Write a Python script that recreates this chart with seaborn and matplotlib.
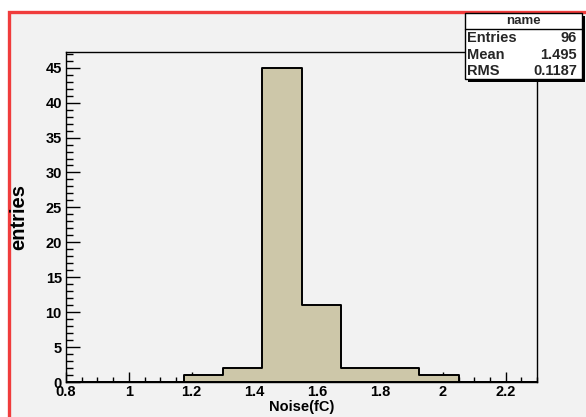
import numpy as np
import pandas as pd
import matplotlib
matplotlib.use("Agg")
import matplotlib.pyplot as plt
from matplotlib.patches import Rectangle
from matplotlib.ticker import MultipleLocator, FuncFormatter
import seaborn as sns

# ---- data ----
bin_edges = [0.8, 0.925, 1.05, 1.175, 1.3, 1.425, 1.55, 1.675, 1.8, 1.925, 2.05, 2.175, 2.3]
bin_counts = [0, 0, 0, 1, 2, 45, 11, 2, 2, 1, 0, 0]
stats_labels = ["Entries", "Mean", "RMS"]
stats_values = ["96", "1.495", "0.1187"]
hist_name = "name"
x_title = "Noise(fC)"
y_title = "entries"

centers = [(a + b) / 2 for a, b in zip(bin_edges[:-1], bin_edges[1:])]
df = pd.DataFrame({"noise": centers, "count": bin_counts})

sns.set_theme(style="white")
plt.rcParams["font.family"] = ["Liberation Sans", "DejaVu Sans"]
plt.rcParams["font.weight"] = "bold"

W, H = 586, 417
fig = plt.figure(figsize=(W / 100, H / 100), dpi=100)
fig.patch.set_facecolor("white")

# canvas background with red frame
fig.patches.append(Rectangle((8.5 / W, -0.1), 1.2, 1 - 12.5 / H + 0.1,
                             transform=fig.transFigure, facecolor="#f2f2f2",
                             edgecolor="#f03c3c", linewidth=2.4, zorder=-10))

ax = fig.add_axes([66 / W, 1 - 382 / H, 471 / W, 330 / H])
ax.set_zorder(1)
ax.set_facecolor("#f2f2f2")

sns.histplot(data=df, x="noise", weights="count", bins=bin_edges,
             element="step", fill=True, color="#cdc7a9", alpha=1.0,
             edgecolor="black", linewidth=1.4, ax=ax)

ax.set_xlim(0.8, 2.3)
ax.set_ylim(0, 47.25)

for s in ax.spines.values():
    s.set_color("black")
    s.set_linewidth(1.0)
    s.set_visible(True)

ax.xaxis.set_major_locator(MultipleLocator(0.2))
ax.xaxis.set_minor_locator(MultipleLocator(0.05))
ax.yaxis.set_major_locator(MultipleLocator(5))
ax.yaxis.set_minor_locator(MultipleLocator(1))
ax.tick_params(axis="x", which="major", direction="in", length=7.5, width=1,
               color="black", labelsize=10.5, pad=2, bottom=True, top=False)
ax.tick_params(axis="x", which="minor", direction="in", length=3.8, width=1,
               color="black", bottom=True, top=False)
ax.tick_params(axis="y", which="major", direction="in", length=10, width=1,
               color="black", labelsize=10.5, pad=3, left=True, right=False)
ax.tick_params(axis="y", which="minor", direction="in", length=5, width=1,
               color="black", left=True, right=False)
ax.xaxis.set_major_formatter(FuncFormatter(lambda v, p: f"{v:g}"))
for lab in ax.get_xticklabels() + ax.get_yticklabels():
    lab.set_fontweight("bold")
    lab.set_color("black")

ax.set_xlabel("")
ax.set_ylabel("")
fig.text(301.5 / W, 1 - 407 / H, x_title, ha="center", va="center",
         fontsize=10.5, fontweight="bold", color="black")
fig.text(19 / W, 1 - 217 / H, y_title, ha="center", va="center", rotation=90,
         fontsize=14.5, fontweight="bold", color="black")

# stats box
bx0, by0, bx1, by1 = 465, 13, 582, 79
fig.patches.append(Rectangle(((bx0 + 3) / W, 1 - (by1 + 3) / H), (bx1 - bx0) / W, (by1 - by0) / H,
                             transform=fig.transFigure, facecolor="black", edgecolor="black",
                             linewidth=0, zorder=5))
fig.patches.append(Rectangle((bx0 / W, 1 - by1 / H), (bx1 - bx0) / W, (by1 - by0) / H,
                             transform=fig.transFigure, facecolor="white", edgecolor="black",
                             linewidth=1.0, zorder=6))
fig.add_artist(plt.Line2D([bx0 / W, bx1 / W], [1 - 29 / H, 1 - 29 / H],
                          transform=fig.transFigure, color="black", linewidth=1.0, zorder=7))
fig.text((bx0 + bx1) / 2 / W, 1 - 21.5 / H, hist_name, ha="center", va="center",
         fontsize=9.5, fontweight="bold", zorder=8)
row_y = [38.5, 55, 71]
for lab, val, yy in zip(stats_labels, stats_values, row_y):
    fig.text(467 / W, 1 - yy / H, lab, ha="left", va="center",
             fontsize=10.5, fontweight="bold", zorder=8)
    fig.text(577 / W, 1 - yy / H, val, ha="right", va="center",
             fontsize=10.5, fontweight="bold", zorder=8)

fig.savefig("out.png", dpi=100)
